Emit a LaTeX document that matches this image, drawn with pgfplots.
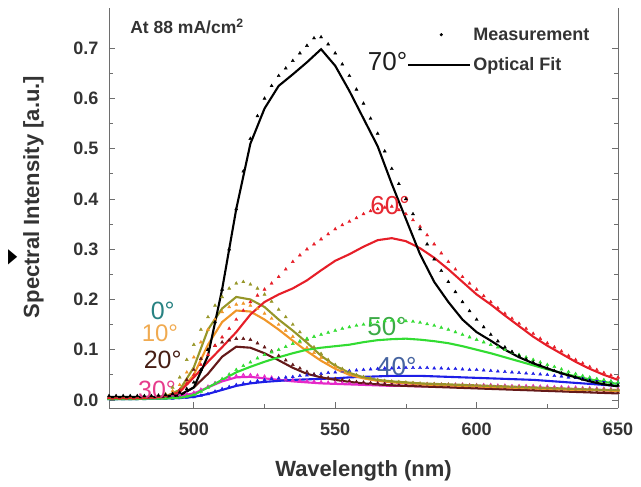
\documentclass[border=0pt]{standalone}
\usepackage{pgfplots}
\pgfplotsset{compat=1.18}
\usepackage{pgfplotstable}
\usepackage{fontspec}
\setmainfont{Liberation Sans}
\newfontfamily\symfont{DejaVu Sans}
\usetikzlibrary{calc}

\definecolor{c0}{RGB}{150,150,40}
\definecolor{c10}{RGB}{240,150,40}
\definecolor{c20}{RGB}{100,25,25}
\definecolor{c30}{RGB}{230,40,200}
\definecolor{c40}{RGB}{30,30,230}
\definecolor{c50}{RGB}{50,220,50}
\definecolor{c60}{RGB}{230,30,40}
\definecolor{c70}{RGB}{0,0,0}
\definecolor{l0}{RGB}{40,130,130}
\definecolor{l10}{RGB}{240,170,80}
\definecolor{l20}{RGB}{70,30,20}
\definecolor{l30}{RGB}{230,60,140}
\definecolor{l40}{RGB}{70,100,160}
\definecolor{l50}{RGB}{60,170,70}
\definecolor{l60}{RGB}{230,40,50}
\definecolor{l70}{RGB}{30,30,30}
\definecolor{axgray}{RGB}{110,110,110}

\pgfplotsset{
  meslegend/.style={legend image code/.code={\path (0pt,0pt) (62pt,0pt); \draw[##1] plot coordinates {(33pt,0pt)};}},
  fitlegend/.style={legend image code/.code={\draw[##1] (0pt,0pt) -- (62pt,0pt);}},
  mes/.style={forget plot, only marks, mark=triangle*, mark size=1.8pt, color=#1},
  fit/.style={forget plot, no marks, line width=2.1pt, color=#1},
}

\pgfplotstableread{
x   a0    a10   a20   a30   a40   a50   a60   a70
470 0.004 0.004 0.004 0.003 0.002 0.002 0.003 0.006
475 0.004 0.004 0.004 0.003 0.002 0.002 0.003 0.006
480 0.004 0.004 0.004 0.004 0.002 0.002 0.003 0.006
485 0.005 0.005 0.005 0.005 0.003 0.003 0.004 0.006
490 0.007 0.007 0.006 0.006 0.003 0.003 0.006 0.007
495 0.020 0.017 0.010 0.008 0.004 0.004 0.016 0.009
500 0.065 0.050 0.025 0.013 0.006 0.010 0.045 0.025
505 0.140 0.110 0.052 0.025 0.012 0.025 0.076 0.088
510 0.182 0.155 0.086 0.037 0.020 0.040 0.105 0.220
515 0.205 0.178 0.106 0.045 0.028 0.055 0.135 0.380
520 0.200 0.176 0.104 0.046 0.033 0.066 0.170 0.510
525 0.185 0.160 0.093 0.043 0.036 0.076 0.195 0.580
530 0.160 0.140 0.079 0.040 0.038 0.085 0.210 0.625
535 0.138 0.118 0.064 0.037 0.040 0.093 0.222 0.648
540 0.114 0.097 0.052 0.035 0.041 0.100 0.238 0.672
545 0.088 0.078 0.045 0.033 0.042 0.104 0.258 0.698
550 0.068 0.062 0.040 0.032 0.043 0.107 0.277 0.665
555 0.054 0.050 0.036 0.031 0.045 0.110 0.290 0.615
560 0.045 0.043 0.033 0.030 0.046 0.115 0.305 0.560
565 0.040 0.038 0.031 0.029 0.047 0.119 0.318 0.505
570 0.037 0.035 0.029 0.028 0.048 0.121 0.322 0.430
575 0.035 0.033 0.028 0.028 0.048 0.122 0.316 0.360
580 0.033 0.031 0.027 0.027 0.048 0.120 0.302 0.290
585 0.032 0.030 0.026 0.027 0.047 0.117 0.283 0.235
590 0.031 0.029 0.025 0.026 0.046 0.113 0.260 0.195
595 0.030 0.028 0.024 0.026 0.045 0.107 0.235 0.160
600 0.029 0.027 0.023 0.025 0.044 0.100 0.210 0.135
605 0.028 0.026 0.022 0.025 0.043 0.093 0.190 0.118
610 0.027 0.025 0.021 0.024 0.042 0.085 0.168 0.100
615 0.026 0.024 0.020 0.023 0.041 0.077 0.147 0.085
620 0.025 0.023 0.019 0.023 0.040 0.069 0.126 0.073
625 0.024 0.022 0.018 0.022 0.038 0.061 0.108 0.063
630 0.023 0.021 0.017 0.021 0.036 0.054 0.092 0.053
635 0.022 0.020 0.016 0.020 0.034 0.047 0.076 0.045
640 0.021 0.020 0.015 0.020 0.032 0.041 0.062 0.037
645 0.020 0.019 0.014 0.019 0.030 0.036 0.050 0.031
650 0.020 0.018 0.013 0.018 0.028 0.032 0.040 0.027
}\fits

\pgfplotstableread{
x   m0    m10   m20   m30   m40   m50   m60   m70
470 0.005 0.005 0.005 0.004 0.002 0.002 0.004 0.008
475 0.005 0.005 0.005 0.004 0.002 0.002 0.004 0.008
480 0.005 0.005 0.005 0.005 0.002 0.002 0.004 0.008
485 0.006 0.006 0.006 0.006 0.003 0.003 0.005 0.008
490 0.012 0.010 0.008 0.008 0.003 0.003 0.008 0.010
495 0.045 0.030 0.020 0.010 0.004 0.005 0.020 0.015
500 0.110 0.085 0.060 0.015 0.006 0.010 0.050 0.035
505 0.165 0.140 0.100 0.027 0.012 0.025 0.090 0.100
510 0.205 0.175 0.115 0.040 0.022 0.042 0.125 0.220
515 0.232 0.190 0.122 0.048 0.030 0.060 0.160 0.380
520 0.230 0.188 0.120 0.050 0.035 0.075 0.195 0.520
525 0.210 0.172 0.105 0.047 0.040 0.090 0.220 0.600
530 0.180 0.150 0.088 0.043 0.043 0.100 0.245 0.645
535 0.150 0.126 0.070 0.040 0.046 0.112 0.275 0.675
540 0.120 0.104 0.056 0.038 0.049 0.122 0.300 0.705
545 0.092 0.084 0.047 0.036 0.052 0.130 0.320 0.722
550 0.070 0.066 0.042 0.035 0.055 0.138 0.340 0.690
555 0.055 0.053 0.038 0.034 0.058 0.145 0.355 0.645
560 0.046 0.045 0.035 0.033 0.060 0.150 0.370 0.590
565 0.040 0.040 0.033 0.033 0.062 0.155 0.380 0.530
570 0.037 0.036 0.031 0.033 0.063 0.158 0.385 0.460
575 0.035 0.034 0.030 0.032 0.064 0.157 0.370 0.400
580 0.033 0.032 0.029 0.032 0.064 0.154 0.345 0.340
585 0.032 0.031 0.028 0.032 0.063 0.148 0.310 0.280
590 0.031 0.030 0.027 0.031 0.062 0.140 0.275 0.235
595 0.030 0.029 0.026 0.031 0.061 0.130 0.245 0.195
600 0.029 0.028 0.025 0.030 0.060 0.120 0.220 0.160
605 0.028 0.027 0.024 0.030 0.058 0.110 0.195 0.130
610 0.027 0.026 0.023 0.029 0.056 0.100 0.172 0.105
615 0.026 0.025 0.022 0.028 0.054 0.090 0.152 0.088
620 0.025 0.024 0.021 0.028 0.052 0.080 0.132 0.075
625 0.024 0.023 0.020 0.027 0.050 0.070 0.113 0.063
630 0.023 0.022 0.019 0.026 0.047 0.061 0.097 0.053
635 0.022 0.021 0.018 0.025 0.044 0.052 0.080 0.045
640 0.022 0.021 0.017 0.024 0.041 0.045 0.066 0.038
645 0.021 0.020 0.016 0.023 0.038 0.040 0.054 0.033
650 0.020 0.019 0.015 0.022 0.035 0.035 0.045 0.029
}\meas

\pgfplotstableread{
x     m0    m10   m20   m30   m40   m50   m60   m70
472.5 0.005 0.005 0.005 0.004 0.002 0.002 0.004 0.008
477.5 0.005 0.005 0.005 0.004 0.002 0.002 0.004 0.008
482.5 0.005 0.005 0.005 0.005 0.002 0.002 0.004 0.008
487.5 0.008 0.008 0.007 0.007 0.003 0.003 0.006 0.009
492.5 0.025 0.018 0.012 0.009 0.003 0.004 0.012 0.012
497.5 0.080 0.055 0.040 0.012 0.005 0.007 0.033 0.022
502.5 0.140 0.115 0.082 0.021 0.009 0.017 0.070 0.060
507.5 0.188 0.160 0.108 0.034 0.017 0.033 0.108 0.155
512.5 0.222 0.185 0.119 0.045 0.026 0.051 0.142 0.300
517.5 0.235 0.192 0.122 0.050 0.033 0.068 0.178 0.455
522.5 0.222 0.182 0.113 0.049 0.038 0.083 0.208 0.565
527.5 0.196 0.162 0.097 0.045 0.042 0.095 0.232 0.625
532.5 0.165 0.138 0.079 0.041 0.045 0.106 0.260 0.660
537.5 0.135 0.115 0.063 0.039 0.048 0.117 0.288 0.690
542.5 0.105 0.094 0.051 0.037 0.051 0.126 0.310 0.720
547.5 0.080 0.075 0.044 0.035 0.054 0.134 0.330 0.708
552.5 0.062 0.059 0.040 0.034 0.057 0.142 0.348 0.668
557.5 0.050 0.049 0.036 0.033 0.059 0.148 0.362 0.618
562.5 0.043 0.042 0.034 0.033 0.061 0.153 0.376 0.560
567.5 0.038 0.038 0.032 0.033 0.063 0.157 0.383 0.495
572.5 0.036 0.035 0.030 0.032 0.064 0.158 0.378 0.430
577.5 0.034 0.033 0.029 0.032 0.064 0.156 0.358 0.370
582.5 0.032 0.031 0.028 0.032 0.064 0.151 0.328 0.310
587.5 0.031 0.030 0.027 0.031 0.063 0.144 0.292 0.257
592.5 0.030 0.029 0.026 0.031 0.062 0.135 0.260 0.215
597.5 0.029 0.028 0.025 0.030 0.060 0.125 0.232 0.177
602.5 0.028 0.027 0.024 0.030 0.059 0.115 0.207 0.145
607.5 0.027 0.026 0.023 0.029 0.057 0.105 0.183 0.117
612.5 0.026 0.025 0.022 0.028 0.055 0.095 0.162 0.096
617.5 0.025 0.024 0.021 0.028 0.053 0.085 0.142 0.081
622.5 0.024 0.023 0.020 0.027 0.051 0.075 0.122 0.069
627.5 0.023 0.022 0.019 0.026 0.048 0.066 0.105 0.058
632.5 0.022 0.021 0.018 0.025 0.045 0.056 0.088 0.049
637.5 0.022 0.021 0.017 0.024 0.043 0.048 0.073 0.041
642.5 0.021 0.020 0.016 0.023 0.040 0.042 0.060 0.035
647.5 0.020 0.019 0.015 0.022 0.037 0.037 0.049 0.031
}\measb

\begin{document}
\begin{tikzpicture}
\begin{axis}[
  name=ax,
  scale only axis,
  width=509pt, height=400pt,
  xmin=470, xmax=650, ymin=-0.016, ymax=0.78,
  axis x line*=bottom, axis y line*=box,
  axis line style={axgray, line width=0.8pt},
  xtick={500,550,600,650}, minor xtick={525,575,625},
  ytick={0,0.1,...,0.7}, minor ytick={0.05,0.15,...,0.65},
  tick style={axgray, line width=0.8pt},
  major tick length=6pt, minor tick length=4pt,
  tick align=inside,
  /pgf/number format/assume math mode=true,
  yticklabel style={/pgf/number format/fixed, /pgf/number format/precision=1, /pgf/number format/fixed zerofill, xshift=-7pt},
  xticklabel style={yshift=-11pt},
  ticklabel style={font=\bfseries\fontsize{18}{20}\selectfont, text=black!80},
  xlabel={Wavelength (nm)},
  ylabel={Spectral Intensity [a.u.]},
  label style={font=\bfseries\fontsize{22}{24}\selectfont, text=black!80},
  xlabel style={yshift=-18pt},
  ylabel style={yshift=23pt, xshift=11pt},
  clip=false,
  legend style={at={(axis cs:575.4,0.745)}, anchor=north west, draw=none, fill=none,
    font=\bfseries\fontsize{18}{20}\selectfont, text=black!80, row sep=12pt, inner sep=0pt},
  legend cell align=left,
]
\addlegendimage{only marks, mark=*, mark size=1.4pt, black, meslegend}
\addlegendentry{Measurement}
\addlegendimage{black, line width=2.1pt, fitlegend}
\addlegendentry{Optical Fit}

% measurements
\addplot[mes=c30] table[x=x, y=m30] {\meas};
\addplot[mes=c30] table[x=x, y=m30] {\measb};
\addplot[mes=c40] table[x=x, y=m40] {\meas};
\addplot[mes=c40] table[x=x, y=m40] {\measb};
\addplot[mes=c20] table[x=x, y=m20] {\meas};
\addplot[mes=c20] table[x=x, y=m20] {\measb};
\addplot[mes=c10] table[x=x, y=m10] {\meas};
\addplot[mes=c10] table[x=x, y=m10] {\measb};
\addplot[mes=c0] table[x=x, y=m0] {\meas};
\addplot[mes=c0] table[x=x, y=m0] {\measb};
\addplot[mes=c50] table[x=x, y=m50] {\meas};
\addplot[mes=c50] table[x=x, y=m50] {\measb};
\addplot[mes=c60] table[x=x, y=m60] {\meas};
\addplot[mes=c60] table[x=x, y=m60] {\measb};
\addplot[mes=c70] table[x=x, y=m70] {\meas};
\addplot[mes=c70] table[x=x, y=m70] {\measb};
% fits
\addplot[fit=c30] table[x=x, y=a30] {\fits};
\addplot[fit=c40] table[x=x, y=a40] {\fits};
\addplot[fit=c20] table[x=x, y=a20] {\fits};
\addplot[fit=c10] table[x=x, y=a10] {\fits};
\addplot[fit=c0] table[x=x, y=a0] {\fits};
\addplot[fit=c50] table[x=x, y=a50] {\fits};
\addplot[fit=c60] table[x=x, y=a60] {\fits};
\addplot[fit=c70] table[x=x, y=a70] {\fits};

\node[font=\fontsize{26}{28}\selectfont, text=l70] at (axis cs:568.5,0.674) {70°};
\node[font=\fontsize{26}{28}\selectfont, text=l60] at (axis cs:569.4,0.386) {60°};
\node[font=\fontsize{26}{28}\selectfont, text=l50] at (axis cs:568.3,0.146) {50°};
\node[font=\fontsize{26}{28}\selectfont, text=l40] at (axis cs:571.8,0.066) {40°};
\node[font=\fontsize{25}{27}\selectfont, text=l0] at (axis cs:489,0.178) {0°};
\node[font=\fontsize{24}{26}\selectfont, text=l10] at (axis cs:488,0.132) {10°};
\node[font=\fontsize{25}{27}\selectfont, text=l20] at (axis cs:489,0.080) {20°};
\node[font=\fontsize{25}{27}\selectfont, text=l30] at (axis cs:487,0.020) {30°};
\node[anchor=west, font=\bfseries\fontsize{17.5}{19}\selectfont, text=black!80] at (axis cs:476.3,0.744) {At 88 mA/cm\textsuperscript{2}};
\node[font=\symfont\fontsize{20}{22}\selectfont, xscale=0.6] at (axis cs:436,0.284) {▶};
\end{axis}
\pgfresetboundingbox
\path ($(ax.south west)+(-109pt,-78pt)$) rectangle ($(ax.north east)+(23pt,8pt)$);
\end{tikzpicture}
\end{document}
